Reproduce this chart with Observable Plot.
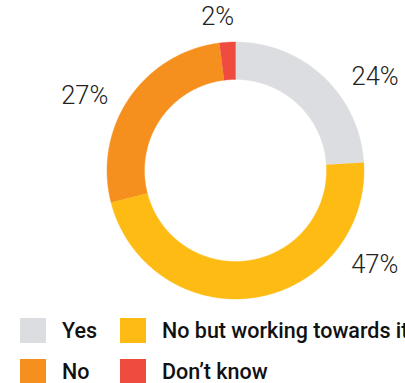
<!DOCTYPE html>
<html><head><meta charset="utf-8">
<script src="https://cdn.jsdelivr.net/npm/d3@7"></script>
<script src="https://cdn.jsdelivr.net/npm/@observablehq/plot@0.6"></script>
<style>
html,body{margin:0;padding:0;background:#fff;overflow:hidden;width:405px;height:383px}
#chart{position:relative;width:405px;height:383px;overflow:hidden}
#chart svg{position:absolute;left:0;top:0}
.legend-item{position:absolute;display:flex;align-items:center;height:25px;white-space:nowrap;
  font-family:Roboto,"Liberation Sans",sans-serif;font-weight:500;font-size:21.5px;color:#111}
.legend-item .sw{width:26px;height:25px;margin-right:16px;flex:none}
</style></head><body><div id="chart"></div>
<script>
const categories = ["Yes", "No but working towards it", "No", "Don’t know"];
const values = [24, 47, 27, 2];
const colors = ["#dcdde0", "#fdbb13", "#f5901f", "#ef4b3f"];
const valueLabels = ["24%", "47%", "27%", "2%"];

// layout constants
const W = 405, H = 305, cx = 235, cy = 170, R = 128.5, r = 91;
const labelAngleShift = [13, -47, -8, -3]; // degrees, visual label placement
const labelRadius = [168, 168, 168, 155];

const pie = d3.pie().sort(null).value(d => d.value);
const data = categories.map((c, i) => ({category: c, value: values[i], label: valueLabels[i], color: colors[i]}));
const arcs = pie(data);

const polys = [];
arcs.forEach(a => {
  const n = Math.max(2, Math.ceil((a.endAngle - a.startAngle) * 180));
  for (let k = 0; k <= n; k++) {
    const t = a.startAngle + (a.endAngle - a.startAngle) * k / n;
    polys.push({category: a.data.category, x: R * Math.sin(t), y: -R * Math.cos(t)});
  }
  for (let k = n; k >= 0; k--) {
    const t = a.startAngle + (a.endAngle - a.startAngle) * k / n;
    polys.push({category: a.data.category, x: r * Math.sin(t), y: -r * Math.cos(t)});
  }
});

const labelPts = arcs.map((a, i) => {
  const t = (a.startAngle + a.endAngle) / 2 + labelAngleShift[i] * Math.PI / 180;
  return {label: a.data.label, x: labelRadius[i] * Math.sin(t), y: -labelRadius[i] * Math.cos(t)};
});

const plot = Plot.plot({
  width: W, height: H,
  margin: 0,
  x: {domain: [-cx, W - cx], range: [0, W], axis: null},
  y: {domain: [-cy, H - cy], range: [0, H], axis: null},
  color: {domain: categories, range: colors},
  marks: [
    Plot.line(polys, {x: "x", y: "y", z: "category", fill: "category", stroke: "category", strokeWidth: 0.4, curve: "linear"}),
    Plot.text(labelPts, {x: "x", y: "y", text: "label", fontSize: 25.5, fontWeight: 300,
      fontFamily: "Roboto, 'Liberation Sans', sans-serif", fill: "#222", textAnchor: "middle"})
  ]
});
plot.style.fontFamily = "Roboto, 'Liberation Sans', sans-serif";
const chart = document.getElementById("chart");
chart.appendChild(plot);

const legendPos = [[20, 318], [120, 318], [20, 359], [120, 359]];
categories.forEach((c, i) => {
  const item = document.createElement("div");
  item.className = "legend-item";
  item.style.left = legendPos[i][0] + "px";
  item.style.top = legendPos[i][1] + "px";
  const sw = document.createElement("span");
  sw.className = "sw";
  sw.style.background = colors[i];
  item.appendChild(sw);
  item.appendChild(document.createTextNode(c));
  chart.appendChild(item);
});
</script></body></html>
